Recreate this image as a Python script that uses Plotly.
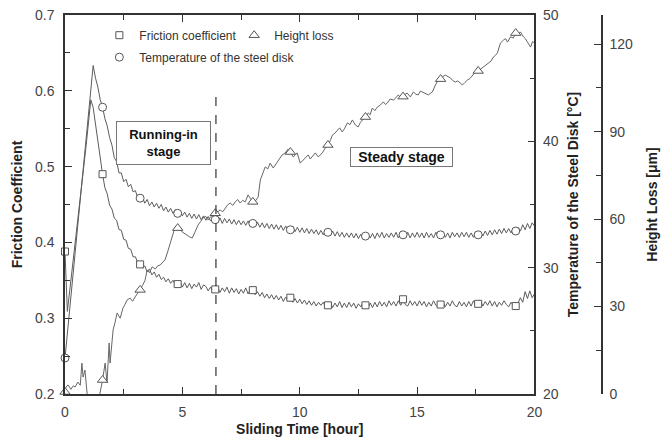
import plotly.graph_objects as go

# ---------------- data ----------------
time_h = [round(0.1 * i, 1) for i in range(201)]

friction = [
    0.388, 0.309, 0.336, 0.362, 0.390, 0.418, 0.445, 0.472, 0.500, 0.528,
    0.556, 0.588, 0.578, 0.556, 0.533, 0.506, 0.490, 0.472, 0.464, 0.449,
    0.444, 0.432, 0.429, 0.417, 0.416, 0.404, 0.403, 0.392, 0.391, 0.381,
    0.381, 0.373, 0.371, 0.366, 0.369, 0.361, 0.365, 0.357, 0.361, 0.354,
    0.358, 0.351, 0.354, 0.348, 0.352, 0.346, 0.350, 0.344, 0.345, 0.348,
    0.341, 0.347, 0.340, 0.346, 0.339, 0.345, 0.341, 0.347, 0.338, 0.344,
    0.342, 0.336, 0.341, 0.335, 0.338, 0.341, 0.334, 0.340, 0.335, 0.341,
    0.333, 0.340, 0.334, 0.339, 0.332, 0.338, 0.333, 0.340, 0.332, 0.338,
    0.337, 0.331, 0.335, 0.329, 0.334, 0.327, 0.332, 0.326, 0.331, 0.325,
    0.330, 0.324, 0.329, 0.322, 0.328, 0.323, 0.327, 0.321, 0.326, 0.320,
    0.325, 0.319, 0.324, 0.318, 0.323, 0.317, 0.322, 0.316, 0.321, 0.317,
    0.321, 0.315, 0.317, 0.321, 0.314, 0.320, 0.315, 0.322, 0.314, 0.320,
    0.314, 0.321, 0.315, 0.320, 0.313, 0.319, 0.315, 0.321, 0.317, 0.313,
    0.320, 0.314, 0.321, 0.315, 0.322, 0.316, 0.321, 0.315, 0.323, 0.317,
    0.322, 0.316, 0.323, 0.317, 0.325, 0.318, 0.316, 0.323, 0.317, 0.322,
    0.316, 0.323, 0.317, 0.322, 0.315, 0.321, 0.316, 0.323, 0.317, 0.315,
    0.318, 0.322, 0.315, 0.321, 0.316, 0.323, 0.317, 0.315, 0.322, 0.316,
    0.321, 0.315, 0.322, 0.316, 0.323, 0.317, 0.319, 0.323, 0.316, 0.322,
    0.317, 0.323, 0.316, 0.322, 0.315, 0.321, 0.317, 0.323, 0.318, 0.315,
    0.321, 0.317, 0.316, 0.320, 0.327, 0.321, 0.335, 0.326, 0.336, 0.327,
    0.332,
]

temperature = [
    22.85, 24.8, 26.7, 28.7, 30.6, 32.5, 34.5, 36.4, 38.3, 40.2,
    42.2, 44.1, 46.0, 45.0, 44.3, 43.3, 42.7, 41.8, 41.2, 40.3,
    39.7, 38.7, 38.4, 37.5, 37.5, 36.8, 37.0, 36.4, 36.6, 36.0,
    36.1, 35.5, 35.5, 35.6, 35.1, 35.4, 34.9, 35.2, 34.8, 35.1,
    34.7, 35.0, 34.5, 34.8, 34.4, 34.7, 34.3, 34.6, 34.3, 34.5,
    34.1, 34.4, 34.0, 34.3, 33.9, 34.25, 33.85, 34.2, 33.8, 34.1,
    33.75, 34.05, 33.7, 34.0, 33.8, 33.55, 33.95, 33.5, 33.9, 33.55,
    33.85, 33.45, 33.8, 33.4, 33.75, 33.4, 33.7, 33.35, 33.7, 33.3,
    33.5, 33.25, 33.6, 33.2, 33.55, 33.15, 33.5, 33.1, 33.45, 33.05,
    33.4, 33.0, 33.35, 32.95, 33.3, 32.9, 33.0, 33.25, 32.85, 33.2,
    32.8, 33.15, 32.75, 33.1, 32.7, 33.05, 32.7, 33.0, 32.6, 32.95,
    32.6, 32.95, 32.8, 32.55, 32.9, 32.5, 32.85, 32.45, 32.8, 32.4,
    32.75, 32.4, 32.75, 32.35, 32.7, 32.3, 32.65, 32.3, 32.5, 32.7,
    32.35, 32.7, 32.3, 32.75, 32.4, 32.8, 32.35, 32.7, 32.4, 32.75,
    32.4, 32.8, 32.35, 32.75, 32.6, 32.4, 32.8, 32.35, 32.75, 32.4,
    32.8, 32.4, 32.75, 32.35, 32.8, 32.4, 32.7, 32.35, 32.8, 32.45,
    32.6, 32.8, 32.4, 32.75, 32.35, 32.8, 32.45, 32.75, 32.4, 32.8,
    32.45, 32.8, 32.4, 32.75, 32.4, 32.8, 32.6, 32.85, 32.5, 32.9,
    32.55, 32.95, 32.6, 33.0, 32.65, 33.05, 32.7, 33.1, 32.75, 33.1,
    32.75, 33.15, 32.9, 33.2, 32.9, 33.4, 33.0, 33.5, 33.1, 33.55,
    33.3,
]

height_time = [
    0, 0.04, 0.13, 0.25, 0.35, 0.43, 0.55, 0.65, 0.72, 0.77,
    0.85, 0.94, 1.05, 1.2, 1.35, 1.49, 1.6, 1.71, 1.79, 1.88,
    1.92, 2.05, 2.13, 2.22, 2.35, 2.47, 2.56, 2.64, 2.77, 2.88,
    2.99, 3.1, 3.2, 3.3, 3.41, 3.5, 3.6, 3.71, 3.85, 3.95,
    4.05, 4.15, 4.26, 4.37, 4.48, 4.58, 4.69, 4.8, 4.9, 4.99,
    5.1, 5.2, 5.31, 5.42, 5.54, 5.67, 5.78, 5.88, 6.0, 6.1,
    6.2, 6.31, 6.4, 6.5, 6.61, 6.72, 6.82, 6.93, 7.04, 7.15,
    7.25, 7.36, 7.46, 7.57, 7.68, 7.8, 7.9, 8.0, 8.12, 8.23,
    8.32, 8.42, 8.53, 8.64, 8.74, 8.87, 8.95, 9.04, 9.15, 9.25,
    9.38, 9.5, 9.6, 9.72, 9.8, 9.89, 10.02, 10.15, 10.25, 10.36,
    10.45, 10.53, 10.66, 10.79, 10.88, 10.96, 11.09, 11.2, 11.3, 11.39,
    11.5, 11.6, 11.7, 11.81, 11.92, 12.03, 12.14, 12.24, 12.37, 12.49,
    12.58, 12.67, 12.8, 12.92, 13.0, 13.09, 13.2, 13.3, 13.43, 13.56,
    13.65, 13.73, 13.85, 14.0, 14.1, 14.2, 14.3, 14.4, 14.5, 14.58,
    14.71, 14.84, 14.95, 15.05, 15.14, 15.22, 15.35, 15.48, 15.56, 15.65,
    15.78, 15.9, 16.0, 16.1, 16.2, 16.3, 16.42, 16.52, 16.63, 16.73,
    16.84, 16.93, 17.04, 17.14, 17.25, 17.36, 17.48, 17.6, 17.7, 17.82,
    17.93, 18.04, 18.15, 18.25, 18.33, 18.42, 18.55, 18.68, 18.77, 18.85,
    18.98, 19.1, 19.2, 19.3, 19.4, 19.53, 19.62, 19.7, 19.83, 19.92,
    20.0,
]

height_um = [
    0.7, 2.4, 3.1, 1.6, 2.8, 2.4, 4.1, 3.0, 10.6, 5.8,
    8.2, 0.3, -4.0, -6.0, -3.0, 0.3, 4.8, 10.6, 3.8, 17.5,
    10.6, 22.0, 24.5, 27.8, 26.0, 29.5, 30.8, 32.2, 32.9, 31.8,
    33.3, 34.6, 35.7, 37.2, 39.0, 42.5, 41.6, 43.6, 42.9, 44.0,
    44.2, 45.1, 46.0, 48.7, 51.8, 54.6, 57.3, 56.9, 56.4, 55.6,
    54.9, 54.5, 53.9, 53.5, 55.6, 58.0, 59.2, 60.4, 60.9, 59.7,
    60.8, 61.4, 62.0, 62.6, 63.1, 62.5, 63.8, 64.9, 65.5, 64.7,
    65.9, 66.7, 65.5, 66.4, 65.9, 68.3, 67.0, 65.9, 66.3, 67.6,
    73.4, 75.6, 77.9, 77.2, 79.2, 77.5, 78.4, 79.6, 80.8, 82.0,
    82.7, 84.0, 83.0, 81.3, 81.9, 82.7, 79.2, 80.3, 81.0, 82.0,
    80.6, 81.3, 82.7, 81.3, 82.0, 82.7, 84.4, 85.4, 86.9, 88.8,
    89.5, 90.6, 91.3, 89.9, 91.2, 93.0, 92.4, 94.0, 92.3, 91.6,
    93.1, 94.0, 95.0, 96.4, 95.8, 98.1, 97.2, 98.4, 99.1, 100.2,
    99.3, 99.8, 101.2, 100.8, 101.7, 102.6, 101.5, 102.0, 102.9, 103.2,
    101.9, 103.6, 102.8, 102.6, 103.9, 103.6, 103.2, 102.6, 103.1, 103.6,
    106.0, 107.7, 108.0, 108.9, 109.4, 109.0, 108.4, 107.5, 107.0, 107.4,
    106.7, 106.0, 106.9, 107.7, 108.2, 109.4, 110.4, 110.8, 111.4, 112.2,
    112.6, 113.5, 114.2, 115.6, 116.1, 117.0, 120.4, 121.4, 121.9, 120.7,
    122.5, 122.1, 123.8, 123.2, 124.2, 122.5, 121.8, 120.7, 119.0, 120.9,
    120.4,
]

marker_times = [0.0, 1.6, 3.2, 4.8, 6.4, 8.0, 9.6, 11.2, 12.8, 14.4, 16.0, 17.6, 19.2]

x_tickvals = [0, 5, 10, 15, 20]
friction_tickvals = [0.2, 0.3, 0.4, 0.5, 0.6, 0.7]
temp_tickvals = [20, 30, 40, 50]
height_tickvals = [0, 30, 60, 90, 120]

stage_boundary = 6.43

# ---------------- helpers ----------------
def pick(times, values, wanted):
    xs, ys = [], []
    for t, v in zip(times, values):
        if any(abs(t - w) < 1e-6 for w in wanted):
            xs.append(t)
            ys.append(v)
    return xs, ys

FONT = "Arial, 'Liberation Sans', sans-serif"
AX = "#333333"
TICKTXT = "#444444"
LINE = "#5c5c5c"
MK = "#555555"

fig = go.Figure()

# lines
fig.add_trace(go.Scatter(x=time_h, y=friction, mode="lines", yaxis="y",
                         line=dict(color=LINE, width=1), showlegend=False, hoverinfo="skip"))
fig.add_trace(go.Scatter(x=time_h, y=temperature, mode="lines", yaxis="y2",
                         line=dict(color=LINE, width=1), showlegend=False, hoverinfo="skip"))
fig.add_trace(go.Scatter(x=height_time, y=height_um, mode="lines", yaxis="y3",
                         line=dict(color="#666666", width=1), showlegend=False, hoverinfo="skip"))

# markers
fx, fy = pick(time_h, friction, marker_times)
tx, ty = pick(time_h, temperature, marker_times)
hx, hy = pick(height_time, height_um, marker_times)

fig.add_trace(go.Scatter(x=fx, y=fy, mode="markers", yaxis="y", name="Friction coefficient",
                         marker=dict(symbol="square", size=7, color="white",
                                     line=dict(color=MK, width=1)),
                         cliponaxis=False, legend="legend"))
fig.add_trace(go.Scatter(x=hx, y=hy, mode="markers", yaxis="y3", name="Height loss",
                         marker=dict(symbol="triangle-up", size=9, color="white",
                                     line=dict(color=MK, width=1)),
                         cliponaxis=False, legend="legend2"))
fig.add_trace(go.Scatter(x=tx, y=ty, mode="markers", yaxis="y2", name="Temperature of the steel disk",
                         marker=dict(symbol="circle", size=8, color="white",
                                     line=dict(color=MK, width=1)),
                         cliponaxis=False, legend="legend3"))

XDOM = 0.8743

common_axis = dict(showline=True, linecolor=AX, linewidth=1.5, ticks="inside",
                   ticklen=7, tickwidth=1.2, tickcolor=AX, showgrid=False, zeroline=False,
                   automargin=False,
                   tickfont=dict(family=FONT, size=14, color=TICKTXT))

legend_common = dict(xanchor="left", yanchor="top", bgcolor="rgba(0,0,0,0)",
                     borderwidth=0, font=dict(family=FONT, size=12, color=AX),
                     itemwidth=30, orientation="v")

fig.update_layout(
    width=663, height=442,
    margin=dict(l=65, r=61, t=15, b=48, autoexpand=False),
    paper_bgcolor="white", plot_bgcolor="white",
    font=dict(family=FONT, color=AX),
    xaxis=dict(domain=[0, XDOM], range=[0, 20], tickvals=x_tickvals, mirror="ticks",
               minor=dict(dtick=2.5, tick0=0, ticks="inside", ticklen=5, tickcolor=AX, tickwidth=1.2),
               title=dict(text="<b>Sliding Time [hour]</b>", standoff=6,
                          font=dict(family=FONT, size=14, color="#222")),
               ticklabelstandoff=4,
               **common_axis),
    yaxis=dict(range=[0.2, 0.7], tickvals=friction_tickvals, tickformat=".1f",
               minor=dict(dtick=0.05, tick0=0.2, ticks="inside", ticklen=5, tickcolor=AX, tickwidth=1.2),
               title=dict(text="<b>Friction Coefficient</b>", standoff=9,
                          font=dict(family=FONT, size=14, color="#222")),
               ticklabelstandoff=6,
               **common_axis),
    yaxis2=dict(range=[20, 50], tickvals=temp_tickvals, overlaying="y", side="right", anchor="x",
                minor=dict(dtick=5, tick0=20, ticks="inside", ticklen=5, tickcolor=AX, tickwidth=1.2),
                title=dict(text="<b>Temperature of the Steel Disk [°C]</b>", standoff=10,
                           font=dict(family=FONT, size=14, color="#222")),
                ticklabelstandoff=4,
                **common_axis),
    yaxis3=dict(range=[0, 130], tickvals=height_tickvals, overlaying="y", side="right",
                anchor="free", position=1.0,
                minor=dict(dtick=15, tick0=0, ticks="inside", ticklen=5, tickcolor=AX, tickwidth=1.2),
                title=dict(text="<b>Height Loss [μm]</b>", standoff=14,
                           font=dict(family=FONT, size=14, color="#222")),
                ticklabelstandoff=4,
                **common_axis),
    legend=dict(x=0.064, y=0.985, **legend_common),
    legend2=dict(x=0.315, y=0.985, **legend_common),
    legend3=dict(x=0.064, y=0.927, **legend_common),
    shapes=[dict(type="line", xref="x", yref="y", x0=stage_boundary, x1=stage_boundary,
                 y0=0.2, y1=0.6, line=dict(color="#333", width=1.2, dash="dash"))],
    annotations=[
        dict(x=4.2, y=0.531, xref="x", yref="y", text="<b>Running-in<br>stage</b>",
             showarrow=False, bordercolor="#777", borderwidth=1, borderpad=0,
             width=93, height=42, bgcolor="white",
             font=dict(family=FONT, size=13, color="#111"), align="center"),
        dict(x=14.35, y=0.5127, xref="x", yref="y", text="<b>Steady stage</b>",
             showarrow=False, bordercolor="#777", borderwidth=1, borderpad=0,
             width=101, height=18, bgcolor="white",
             font=dict(family=FONT, size=14, color="#111"), align="center"),
    ],
)

fig.write_html("out.html")
